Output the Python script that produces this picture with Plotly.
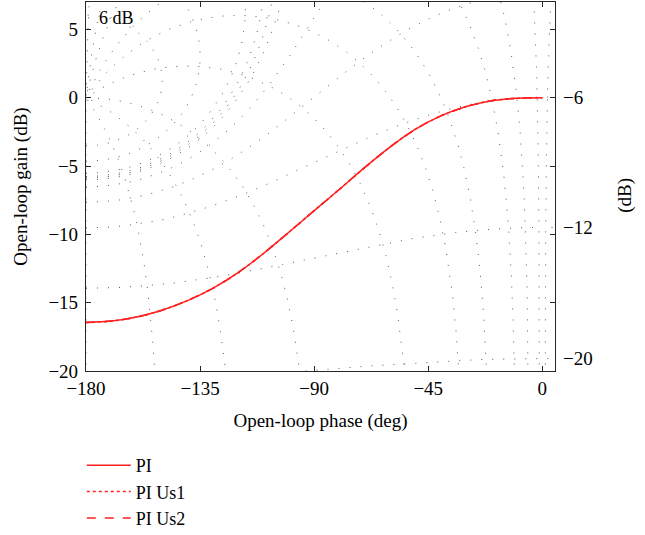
import numpy as np
import plotly.graph_objects as go

# ---- data ----
pi_phase = [-180, -170, -160, -150, -140, -130, -120, -110, -100, -90,
            -80, -70, -60, -50, -40, -30, -20, -10, 0]
pi_gain = [-16.45, -16.35, -16.05, -15.55, -14.85, -13.95, -12.8, -11.4, -9.85, -8.27,
           -6.7, -5.1, -3.6, -2.3, -1.33, -0.65, -0.22, -0.04, 0]

# Nichols grid levels (closed-loop gain in dB, closed-loop phase in deg)
cl_gains_db = [6, 3, 1, 0.5, 0.25, 0, -1, -3, -6, -12, -20, -40]
cl_phases_deg = [-1, -5, -10, -20, -30, -50, -90, -120, -150, -180]
labelled_gains_db = [-6, -12, -20]

x_ticks = [-180, -135, -90, -45, 0]
y_ticks = [5, 0, -5, -10, -15, -20]

FONT = "Liberation Serif"
GRID_COL = "#5a5a5a"
GRID_DASH = "1px,10px"


def to_nichols(L):
    with np.errstate(divide="ignore", invalid="ignore"):
        g = 20 * np.log10(np.abs(L))
    ph = np.degrees(np.angle(L))
    ph = np.where(ph > 1e-9, ph - 360, ph)
    ok = np.isfinite(g) & (g < 14) & (g > -30)
    g = np.where(ok, g, np.nan)
    ph = np.where(ok, ph, np.nan)
    return ph, g


fig = go.Figure()


def add_grid(ph, g):
    for xs in (ph, -ph):
        fig.add_trace(go.Scatter(
            x=xs, y=g, mode="lines",
            line=dict(color=GRID_COL, width=1, dash=GRID_DASH),
            hoverinfo="skip", showlegend=False))


# closed-loop magnitude contours
for mdb in cl_gains_db:
    M = 10 ** (mdb / 20)
    th = np.radians(np.linspace(-180, 0, 1441))
    T = M * np.exp(1j * th)
    with np.errstate(divide="ignore", invalid="ignore"):
        L = T / (1 - T)
    ph, g = to_nichols(L)
    add_grid(ph, g)

# closed-loop phase contours
for pdeg in cl_phases_deg:
    m = np.logspace(-2.5, 2.5, 2001)
    T = m * np.exp(1j * np.radians(pdeg))
    with np.errstate(divide="ignore", invalid="ignore"):
        L = T / (1 - T)
    ph, g = to_nichols(L)
    add_grid(ph, g)

# series
RED = "#ff2020"
fig.add_trace(go.Scatter(x=pi_phase, y=pi_gain, mode="lines", name="PI",
                         line=dict(color=RED, width=1.5, shape="spline", smoothing=0.8)))
fig.add_trace(go.Scatter(x=pi_phase, y=pi_gain, mode="lines", name="PI Us1",
                         line=dict(color=RED, width=1.5, dash="dot", shape="spline", smoothing=0.8)))
fig.add_trace(go.Scatter(x=pi_phase, y=pi_gain, mode="lines", name="PI Us2",
                         line=dict(color=RED, width=1.5, dash="dash", shape="spline", smoothing=0.8)))

annotations = [
    dict(text="6 dB", xref="paper", yref="paper", x=0.0235, y=0.957,
         xanchor="left", yanchor="middle", showarrow=False,
         font=dict(family=FONT, size=18, color="black")),
    dict(text="(dB)", xref="paper", yref="paper", x=1.149, y=0.477,
         xanchor="center", yanchor="middle", textangle=-90, showarrow=False,
         font=dict(family=FONT, size=19, color="black")),
]
for mdb in labelled_gains_db:
    M = 10 ** (mdb / 20)
    yv = 20 * np.log10(M / (1 - M))
    annotations.append(dict(text="\u2212" + str(abs(mdb)), xref="paper", yref="y",
                            x=1, y=yv, xanchor="left", yanchor="middle", xshift=6,
                            showarrow=False, font=dict(family=FONT, size=19, color="black")))

axis_common = dict(showline=True, linecolor="#262626", linewidth=1.2, mirror="ticks",
                   ticks="inside", ticklen=5, tickcolor="#262626", tickwidth=1.2,
                   showgrid=False, zeroline=False, automargin=False,
                   tickfont=dict(family=FONT, size=19, color="black"))

fig.update_layout(
    width=645, height=535,
    margin=dict(l=86, r=90, t=2, b=164, autoexpand=False),
    plot_bgcolor="white", paper_bgcolor="white",
    font=dict(family=FONT, size=19, color="black"),
    xaxis=dict(range=[-180, 5], tickvals=x_ticks, ticklabelstandoff=0,
               title=dict(text="Open-loop phase (deg)", standoff=15,
                          font=dict(family=FONT, size=19)),
               **axis_common),
    yaxis=dict(range=[-20, 7], tickvals=y_ticks, ticklabelstandoff=3,
               title=dict(text="Open-loop gain (dB)", standoff=15,
                          font=dict(family=FONT, size=19)),
               **axis_common),
    legend=dict(x=-0.009, y=-0.206, xanchor="left", yanchor="top",
                bgcolor="rgba(0,0,0,0)", font=dict(family=FONT, size=18),
                tracegroupgap=0, itemwidth=44),
    annotations=annotations,
    showlegend=True,
)

fig.write_html("out.html", config={"displayModeBar": False},
               post_script="document.body.style.margin='0px';")
